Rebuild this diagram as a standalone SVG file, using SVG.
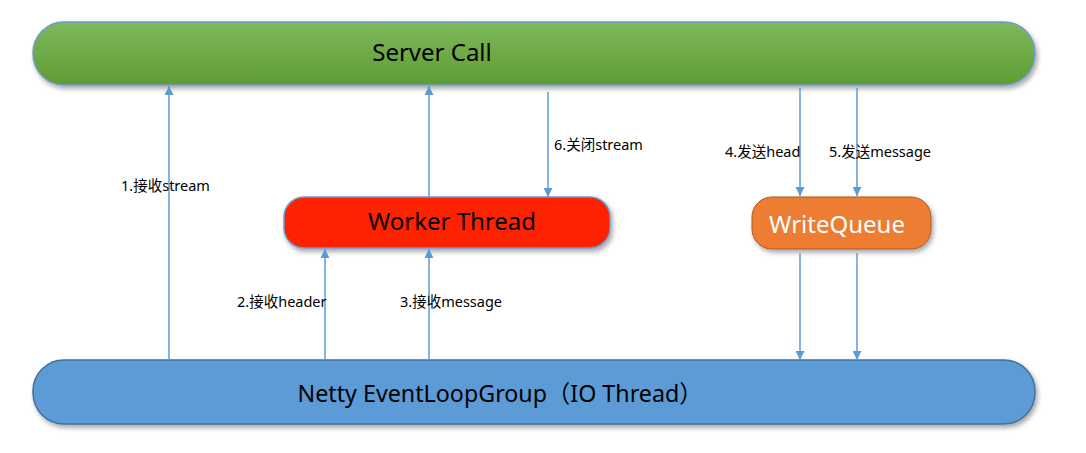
<svg xmlns="http://www.w3.org/2000/svg" width="1086" height="453" viewBox="0 0 1086 453">
<defs>
<linearGradient id="g" x1="0" y1="0" x2="0" y2="1">
<stop offset="0" stop-color="#7db85b"/>
<stop offset="1" stop-color="#5f9d33"/>
</linearGradient>
<filter id="sh" x="-5%" y="-20%" width="110%" height="150%">
<feDropShadow dx="2" dy="3" stdDeviation="2.5" flood-color="#000" flood-opacity="0.35"/>
</filter>
<marker id="ah" viewBox="0 0 10 10" refX="10" refY="5" markerWidth="9" markerHeight="9" markerUnits="userSpaceOnUse" orient="auto">
<path d="M0,0 L10,5 L0,10 z" fill="#5b9bd5"/>
</marker>
</defs>
<style>
.lbl{font-family:"Noto Sans","Noto Sans CJK SC",sans-serif;font-size:14.5px;fill:#000}
.big{font-family:"Noto Sans","Noto Sans CJK SC",sans-serif;font-size:24px;text-anchor:middle}
.c{stroke:#5b9bd5;stroke-width:1.5;fill:none;marker-end:url(#ah)}
</style>
<rect width="1086" height="453" fill="#fff"/>
<g id="server-call">
<rect x="33" y="22" width="1002" height="63" rx="31" fill="url(#g)" stroke="#6f9bd1" stroke-width="1.5" filter="url(#sh)"/>
<text x="432" y="61" class="big" fill="#000">Server Call</text>
</g>
<g id="worker-thread">
<rect x="284" y="197" width="326" height="51" rx="20" fill="#ff2200" stroke="#6f9bd1" stroke-width="1.5" filter="url(#sh)"/>
<text x="452" y="230" class="big" fill="#000">Worker Thread</text>
</g>
<g id="write-queue">
<rect x="752" y="197" width="179" height="52" rx="20" fill="#ed7d31" stroke="#ae5a21" stroke-width="1" filter="url(#sh)"/>
<text x="837" y="233" class="big" fill="#fff">WriteQueue</text>
</g>
<g id="netty">
<rect x="33" y="360" width="1002" height="64" rx="31" fill="#5b9bd5" stroke="#41719c" stroke-width="1.5" filter="url(#sh)"/>
<text x="500" y="402" class="big" fill="#000" textLength="405" lengthAdjust="spacingAndGlyphs">Netty EventLoopGroup（IO Thread）</text>
</g>
<g id="connectors">
<line x1="169" y1="360" x2="169" y2="86" class="c"/>
<line x1="429" y1="197" x2="429" y2="86" class="c"/>
<line x1="548" y1="92" x2="548" y2="197" class="c"/>
<line x1="800" y1="88" x2="800" y2="196" class="c"/>
<line x1="857" y1="88" x2="857" y2="196" class="c"/>
<line x1="325" y1="360" x2="325" y2="249" class="c"/>
<line x1="429" y1="360" x2="429" y2="249" class="c"/>
<line x1="800" y1="253" x2="800" y2="360" class="c"/>
<line x1="857" y1="253" x2="857" y2="360" class="c"/>
</g>
<g id="labels">
<text x="121" y="191" class="lbl">1.接收stream</text>
<text x="554" y="150" class="lbl">6.关闭stream</text>
<text x="725" y="157" class="lbl">4.发送head</text>
<text x="829" y="157" class="lbl">5.发送message</text>
<text x="237" y="307" class="lbl">2.接收header</text>
<text x="400" y="307" class="lbl">3.接收message</text>
</g>
</svg>
